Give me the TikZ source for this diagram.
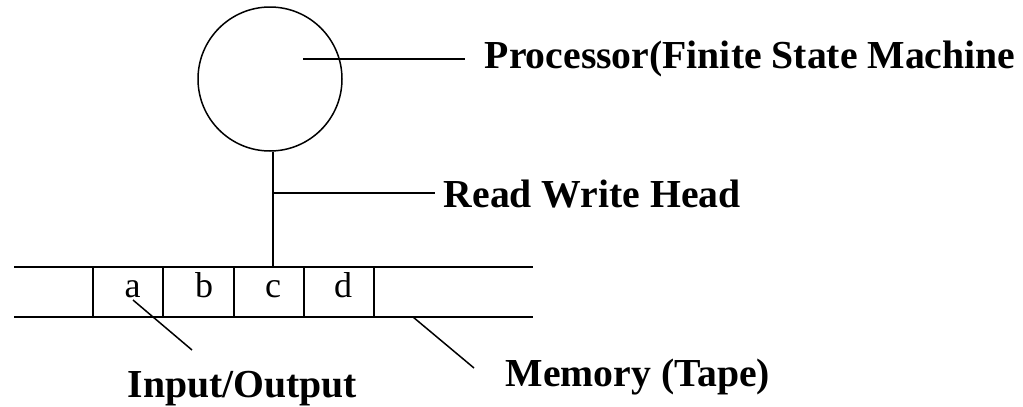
\documentclass[tikz,border=0pt]{standalone}
\usepackage{fontspec}
\setmainfont{Liberation Serif}
\begin{document}
\begin{tikzpicture}[x=1pt,y=-1pt,line width=1.5pt,
  lbl/.style={font=\fontsize{39.7}{42}\selectfont\bfseries,anchor=base west,inner sep=0pt},
  sym/.style={font=\fontsize{36}{38}\selectfont,anchor=base,inner sep=0pt},
  cell/.style={draw,minimum width=70pt,minimum height=50pt,inner sep=0pt}]
\useasboundingbox (0,0) rectangle (1023,407);

% processor
\node[draw,circle,minimum size=144pt,inner sep=0pt] (proc) at (270,79) {};

% tape: two long rails with four framed cells
\coordinate (railTL) at (14,267);
\coordinate (railTR) at (533,267);
\coordinate (railBL) at (14,317);
\coordinate (railBR) at (533,317);
\draw (railTL) -- (railTR);
\draw (railBL) -- (railBR);
\node[cell] (ca) at (128,292) {};
\node[cell] (cb) at (198.5,292) {};
\node[cell] (cc) at (269,292) {};
\node[cell] (cd) at (339,292) {};
\node[sym] (sa) at (132.5,297) {a};
\node[sym] (sb) at (204,297) {b};
\node[sym] (sc) at (273,297) {c};
\node[sym] (sd) at (343,297) {d};

% read/write head
\coordinate (headtop) at (273,267);
\draw (headtop |- proc.south) -- (headtop);

% labels
\node[lbl] (lproc) at (484,68) {Processor(Finite State Machine};
\node[lbl] (lhead) at (443,207) {Read Write Head};
\node[lbl] (lio) at (127,397) {Input/Output};
\node[lbl] (lmem) at (505,386) {Memory (Tape)};

% leader lines
\coordinate (pin) at (303,59);
\coordinate (pout) at (465,59);
\draw (pin) -- (pout);
\coordinate (hin) at (273,193);
\coordinate (hout) at (435,193);
\draw (hin) -- (hout);
\coordinate (ioin) at (133,300);
\coordinate (ioout) at (192,350);
\draw (ioin) -- (ioout);
\coordinate (memin) at (413,317);
\coordinate (memout) at (474,368);
\draw (memin) -- (memout);
\end{tikzpicture}
\end{document}
